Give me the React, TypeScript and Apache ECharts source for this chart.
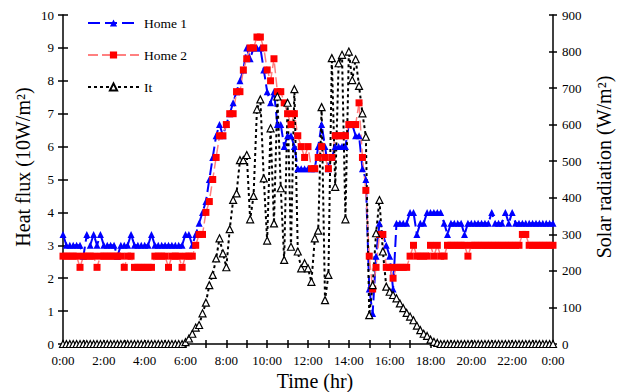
import { useEffect, useRef } from "react";
import * as echarts from "echarts";

// time categories every 10 minutes, 0:00 .. 24:00
const timeLabels: string[] = Array.from({ length: 145 }, (_, i) => {
  const h = Math.floor(i / 6);
  const m = (i % 6) * 10;
  return `${h}:${m === 0 ? "00" : String(m)}`;
});

// Home 1 heat flux (10 W/m2), one row per hour (6 values)
const home1: number[] = [
  3.33, 3, 3, 3, 3, 3,
  2.67, 3.33, 3, 3.33, 3, 3.33,
  3, 3, 3, 3, 2.67, 3,
  3, 3, 3.33, 3, 3, 3,
  3, 3, 3.33, 3, 3, 3,
  3, 3, 3, 3, 3, 3,
  3.33, 3.33, 3, 3.33, 3.67, 4,
  4.33, 5, 5.67, 6.33, 6.67, 6.33,
  6.67, 7, 7.33, 7.67, 8, 8.33,
  9, 8.67, 9, 9, 9, 8.33,
  7.67, 7.33, 7.67, 6.67, 6.67, 6,
  6.33, 6.33, 6, 5.33, 5.33, 5.33,
  5.33, 5.33, 5.33, 6, 6.67, 6,
  5.33, 5.67, 6, 6, 6, 6,
  6.67, 6.67, 6.33, 6.33, 5.33, 5,
  1.67, 0.93, 2.67, 3.67, 3.33, 3,
  2.67, 1.67, 3.67, 3.67, 3.67, 3.67,
  4, 4, 3.33, 3.67, 3.67, 4,
  4, 4, 4, 4, 3.67, 3.33,
  3.67, 3.67, 3.67, 3.67, 3.33, 3.67,
  3.67, 3.67, 3.67, 3.67, 3.67, 3.67,
  4, 3.67, 3.67, 3.67, 4, 3.67,
  4, 3.67, 3.67, 3.67, 3.67, 3.67,
  3.67, 3.67, 3.67, 3.67, 3.67, 3.67,
  3.67,
];

// Home 2 heat flux (10 W/m2)
const home2: number[] = [
  2.67, 2.67, 2.67, 2.67, 2.67, 2.33,
  2.67, 2.67, 2.67, 2.67, 2.33, 2.67,
  2.67, 2.67, 2.67, 2.67, 2.67, 2.67,
  2.33, 2.67, 2.67, 2.33, 2.33, 2.33,
  2.33, 2.33, 2.33, 2.67, 2.67, 2.67,
  2.67, 2.33, 2.67, 2.67, 2.67, 2.33,
  2.67, 2.67, 2.67, 3, 3.33, 3.33,
  4, 4.33, 5, 5.67, 6.33, 6.33,
  6.67, 7, 7, 7.67, 7.67, 8.33,
  8.67, 9, 9, 9.33, 9.33, 9,
  8.33, 8, 8.67, 7.67, 7.67, 7.33,
  7, 6.67, 7, 6.33, 6, 5.67,
  6, 5.33, 5.33, 5.67, 6, 5.67,
  5.33, 5.67, 6.33, 6.33, 6.33, 6.33,
  6.67, 6.67, 6.67, 7.33, 5.67, 4.67,
  2.67, 1.67, 2.33, 3.33, 3.33, 2.33,
  2.33, 2, 2.33, 2.33, 2.33, 2.33,
  2.67, 3, 2.67, 2.67, 2.67, 2.67,
  3, 2.67, 3, 2.67, 2.67, 3,
  3, 3, 3, 3, 3, 2.67,
  3, 3, 3, 3, 3, 3,
  3, 3, 3, 3, 3, 3,
  3, 3, 3, 3.33, 3.33, 3,
  3, 3, 3, 3, 3, 3,
  3,
];

// Solar radiation It (W/m2)
const solar: number[] = [
  0, 0, 0, 0, 0, 0,
  0, 0, 0, 0, 0, 0,
  0, 0, 0, 0, 0, 0,
  0, 0, 0, 0, 0, 0,
  0, 0, 0, 0, 0, 0,
  0, 0, 0, 0, 0, 0,
  5, 15, 28, 45, 52, 84,
  113, 161, 189, 234, 289, 248,
  210, 314, 394, 412, 503, 503,
  517, 341, 405, 642, 669, 453,
  283, 590, 330, 677, 426, 230,
  660, 266, 697, 253, 207, 221,
  207, 170, 289, 310, 648, 120,
  189, 782, 430, 768, 791, 341,
  800, 722, 779, 706, 631, 567,
  79, 161, 303, 394, 253, 157,
  143, 134, 125, 111, 98, 85,
  75, 65, 50, 38, 28, 22,
  12, 6, 3, 0, 0, 0,
  0, 0, 0, 0, 0, 0,
  0, 0, 0, 0, 0, 0,
  0, 0, 0, 0, 0, 0,
  0, 0, 0, 0, 0, 0,
  0, 0, 0, 0, 0, 0,
  0,
];

const FONT = "'Liberation Serif', 'Times New Roman', serif";

export default function App() {
  const ref = useRef<HTMLDivElement>(null);
  useEffect(() => {
    if (!ref.current) return;
    const chart = echarts.init(ref.current, undefined, { renderer: "svg" });
    const labelStyle = { color: "#000", fontSize: 13, fontFamily: FONT };
    const axisLine = { show: true, onZero: false, lineStyle: { color: "#000", width: 1.5 } };
    chart.setOption({
      animation: false,
      backgroundColor: "#fff",
      grid: { left: 63, right: 73, top: 15, bottom: 48, containLabel: false },
      legend: {
        data: ["Home 1", "Home 2", "It"],
        orient: "vertical",
        left: 82,
        top: 11,
        itemWidth: 51,
        itemHeight: 9,
        itemGap: 18,
        textStyle: { color: "#000", fontSize: 13.5, fontFamily: FONT, lineHeight: 14 },
      },
      xAxis: [
        {
          type: "category",
          data: timeLabels,
          boundaryGap: false,
          position: "bottom",
          axisLine,
          axisTick: { show: true, interval: 5, length: 4, lineStyle: { color: "#000", width: 1.5 } },
          axisLabel: {
            ...labelStyle,
            interval: 11,
            margin: 10,
            formatter: (v: string) => (v === "24:00" ? "0:00" : v),
          },
          splitLine: { show: false },
        },
        {
          type: "category",
          data: timeLabels,
          boundaryGap: false,
          position: "bottom",
          axisLine: { show: false, onZero: false },
          axisTick: { show: true, inside: true, interval: 5, length: 4, lineStyle: { color: "#000", width: 1.5 } },
          axisLabel: { show: false },
          splitLine: { show: false },
        },
      ],
      yAxis: [
        {
          type: "value",
          position: "left",
          min: 0,
          max: 10,
          interval: 1,
          axisLine,
          axisTick: { show: true, length: 5, lineStyle: { color: "#000", width: 1.5 } },
          axisLabel: { ...labelStyle, margin: 9 },
          splitLine: { show: false },
        },
        {
          type: "value",
          position: "right",
          min: 0,
          max: 900,
          interval: 100,
          axisLine,
          axisTick: { show: true, length: 4, lineStyle: { color: "#000", width: 1.5 } },
          axisLabel: { ...labelStyle, margin: 9 },
          splitLine: { show: false },
        },
        {
          type: "value",
          position: "left",
          min: 0,
          max: 10,
          interval: 1,
          axisLine: { show: false },
          axisTick: { show: true, inside: true, length: 5, lineStyle: { color: "#000", width: 1.5 } },
          axisLabel: { show: false },
          splitLine: { show: false },
        },
        {
          type: "value",
          position: "right",
          min: 0,
          max: 900,
          interval: 100,
          axisLine: { show: false },
          axisTick: { show: true, inside: true, length: 4, lineStyle: { color: "#000", width: 1.5 } },
          axisLabel: { show: false },
          splitLine: { show: false },
        },
      ],
      series: [
        {
          name: "Home 1",
          type: "line",
          xAxisIndex: 0,
          yAxisIndex: 0,
          data: home1,
          showAllSymbol: true,
          symbol: "triangle",
          symbolSize: 7,
          itemStyle: { color: "#0000ff" },
          lineStyle: { color: "#0000ff", width: 2, type: [12, 5] },
        },
        {
          name: "Home 2",
          type: "line",
          xAxisIndex: 0,
          yAxisIndex: 0,
          data: home2,
          showAllSymbol: true,
          symbol: "rect",
          symbolSize: 7,
          itemStyle: { color: "#ff0000" },
          lineStyle: { color: "#ff8080", width: 1.5, type: [10, 4] },
        },
        {
          name: "It",
          type: "line",
          xAxisIndex: 0,
          yAxisIndex: 1,
          data: solar,
          showAllSymbol: true,
          symbol: "triangle",
          symbolSize: 7,
          itemStyle: { color: "#ffffff", borderColor: "#000", borderWidth: 1.2 },
          lineStyle: { color: "#000", width: 2, type: [3, 3] },
        },
      ],
      graphic: [
        {
          type: "text",
          x: 23,
          y: 167,
          rotation: Math.PI / 2,
          style: {
            text: "Heat flux (10W/m²)",
            fontSize: 20,
            fontFamily: FONT,
            fill: "#000",
            align: "center",
            verticalAlign: "middle",
          },
        },
        {
          type: "text",
          x: 604,
          y: 167,
          rotation: Math.PI / 2,
          style: {
            text: "Solar radiation (W/m²)",
            fontSize: 20,
            fontFamily: FONT,
            fill: "#000",
            align: "center",
            verticalAlign: "middle",
          },
        },
        {
          type: "text",
          x: 315,
          y: 381,
          style: {
            text: "Time (hr)",
            fontSize: 20,
            fontFamily: FONT,
            fill: "#000",
            align: "center",
            verticalAlign: "middle",
          },
        },
      ],
    });
    return () => chart.dispose();
  }, []);
  return <div ref={ref} style={{ width: 626, height: 392, position: "absolute", left: 0, top: 0 }} />;
}
